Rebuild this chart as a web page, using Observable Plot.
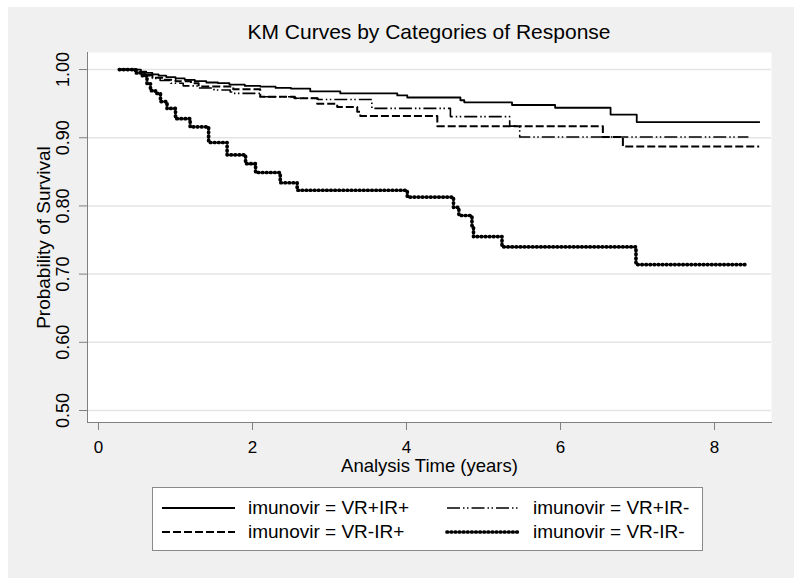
<!DOCTYPE html>
<html><head><meta charset="utf-8">
<script src="https://cdn.jsdelivr.net/npm/d3@7"></script>
<script src="https://cdn.jsdelivr.net/npm/@observablehq/plot@0.6"></script>
<style>
body{margin:0;background:#fff;font-family:"Liberation Sans",Arial,sans-serif;}
#bg{position:absolute;left:8px;top:7px;width:786px;height:571px;background:#f0f0f0;}
#title{position:absolute;left:0;width:858px;top:19px;text-align:center;font-size:21px;line-height:26px;color:#000;}
#chart{position:absolute;left:0;top:0;}
#legend{position:absolute;left:152px;top:487px;width:551px;height:64px;background:#fff;border:1px solid #8a8a8a;box-sizing:border-box;}
.item{position:absolute;height:24px;display:flex;align-items:center;font-size:19px;color:#000;white-space:nowrap;}
.item svg{margin-right:11px;}
</style></head><body>
<div id="bg"></div>
<div id="chart"></div>
<div id="title">KM Curves by Categories of Response</div>
<div id="legend"></div>
<script>
// tick labels
const xTicks = [0, 2, 4, 6, 8];
const yTicks = [0.5, 0.6, 0.7, 0.8, 0.9, 1.0];

// series (Kaplan-Meier step points)
const groups = ["VR+IR+", "VR+IR-", "VR-IR+", "VR-IR-"];

const timeVRpIRp = [0.27, 0.55, 0.62, 0.70, 0.78, 0.88, 1.00, 1.12, 1.25, 1.40, 1.55, 1.70, 1.90, 2.10, 2.30, 2.50, 2.75, 3.14, 3.88, 4.01, 4.70, 4.75, 5.37, 5.93, 6.65, 6.99, 8.59];
const survVRpIRp = [1.000, 0.997, 0.995, 0.993, 0.991, 0.989, 0.987, 0.985, 0.983, 0.981, 0.980, 0.978, 0.976, 0.975, 0.973, 0.972, 0.968, 0.965, 0.962, 0.959, 0.955, 0.952, 0.948, 0.944, 0.934, 0.923, 0.923];

const timeVRpIRm = [0.27, 0.50, 0.60, 0.70, 0.80, 0.94, 1.10, 1.28, 1.50, 1.71, 1.74, 2.10, 2.54, 2.85, 3.55, 4.57, 5.34, 5.47, 8.44];
const survVRpIRm = [1.000, 0.995, 0.991, 0.987, 0.984, 0.980, 0.976, 0.973, 0.970, 0.967, 0.965, 0.960, 0.958, 0.956, 0.943, 0.931, 0.917, 0.901, 0.901];

const timeVRmIRp = [0.27, 0.50, 0.60, 0.70, 0.85, 1.00, 1.20, 1.30, 1.75, 2.10, 2.55, 2.84, 3.10, 3.36, 3.40, 4.40, 6.55, 6.81, 8.58];
const survVRmIRp = [1.000, 0.996, 0.992, 0.988, 0.985, 0.983, 0.980, 0.975, 0.971, 0.960, 0.958, 0.950, 0.945, 0.938, 0.932, 0.917, 0.901, 0.887, 0.887];

const timeVRmIRm = [0.27, 0.48, 0.57, 0.63, 0.675, 0.74, 0.805, 0.89, 1.00, 1.19, 1.43, 1.67, 1.91, 2.04, 2.36, 2.58, 4.01, 4.61, 4.68, 4.85, 4.87, 5.24, 6.98, 8.42];
const survVRmIRm = [1.000, 0.995, 0.991, 0.979, 0.969, 0.965, 0.953, 0.943, 0.928, 0.916, 0.893, 0.875, 0.862, 0.849, 0.834, 0.823, 0.813, 0.798, 0.786, 0.771, 0.755, 0.740, 0.714, 0.714];

const seriesTime = [timeVRpIRp, timeVRpIRm, timeVRmIRp, timeVRmIRm];
const seriesSurv = [survVRpIRp, survVRpIRm, survVRmIRp, survVRmIRm];

const rows = [];
groups.forEach((g, i) => seriesTime[i].forEach((t, j) => rows.push({group: g, t, s: seriesSurv[i][j]})));

const styles = {
  "VR+IR+": {strokeWidth: 1.8, strokeDasharray: null, cap: "butt"},
  "VR+IR-": {strokeWidth: 1.6, strokeDasharray: "13,3,1.5,2.5,1.5,3", cap: "butt"},
  "VR-IR+": {strokeWidth: 2, strokeDasharray: "8,3", cap: "butt"},
  "VR-IR-": {strokeWidth: 3.7, strokeDasharray: "0.6,3.5", cap: "round"}
};

const lineMarks = groups.map(g => Plot.line(rows.filter(r => r.group === g), {
  x: "t", y: "s", curve: "step-after", stroke: "#000",
  strokeWidth: styles[g].strokeWidth, strokeDasharray: styles[g].strokeDasharray,
  strokeLinecap: styles[g].cap
}));

const chart = Plot.plot({
  width: 800, height: 490,
  marginLeft: 87, marginRight: 29, marginTop: 52, marginBottom: 68,
  style: {background: "transparent", fontFamily: "Liberation Sans, Arial, sans-serif", fontSize: "18px", color: "#000"},
  x: {domain: [-0.143, 8.74]},
  y: {domain: [0.4824, 1.025]},
  marks: [
    Plot.frame({fill: "#fff", stroke: null}),
    Plot.gridY({ticks: yTicks, stroke: "#e4e4e4", strokeOpacity: 1, strokeWidth: 1.5}),
    Plot.frame({anchor: "left", stroke: "#808080"}),
    Plot.frame({anchor: "bottom", stroke: "#808080"}),
    Plot.axisX({ticks: xTicks, tickSize: 8, tickPadding: 10, label: null, stroke: "#808080", fontSize: 17}),
    Plot.axisY({ticks: yTicks, tickSize: 8, tickFormat: () => "", label: null, stroke: "#808080"}),
    Plot.text(yTicks, {y: d => d, text: d => d.toFixed(2), frameAnchor: "left", textAnchor: "middle", lineAnchor: "middle", dx: -24, rotate: -90, fontSize: 18, fill: "#000"}),
    Plot.text(["Probability of Survival"], {frameAnchor: "left", textAnchor: "middle", lineAnchor: "middle", dx: -44, rotate: -90, fontSize: 19, fill: "#000"}),
    Plot.text(["Analysis Time (years)"], {frameAnchor: "bottom", textAnchor: "middle", lineAnchor: "middle", dy: 44, fontSize: 18.5, fill: "#000"}),
    ...lineMarks
  ]
});
document.getElementById("chart").appendChild(chart);

// legend
const legend = document.getElementById("legend");
const pos = [[7, 8], [7, 32], [292, 8], [292, 32]];
const order = ["VR+IR+", "VR-IR+", "VR+IR-", "VR-IR-"];
order.forEach((g, i) => {
  const st = styles[g];
  const d = document.createElement("div");
  d.className = "item";
  d.style.left = pos[i][0] + "px";
  d.style.top = pos[i][1] + "px";
  d.innerHTML = `<svg width="77" height="10"><line x1="2" x2="75" y1="5" y2="5" stroke="#000" stroke-width="${st.strokeWidth}" stroke-linecap="${st.cap}" ${st.strokeDasharray ? `stroke-dasharray="${st.strokeDasharray}"` : ""}/></svg><span>imunovir = ${g}</span>`;
  legend.appendChild(d);
});
</script>
</body></html>
